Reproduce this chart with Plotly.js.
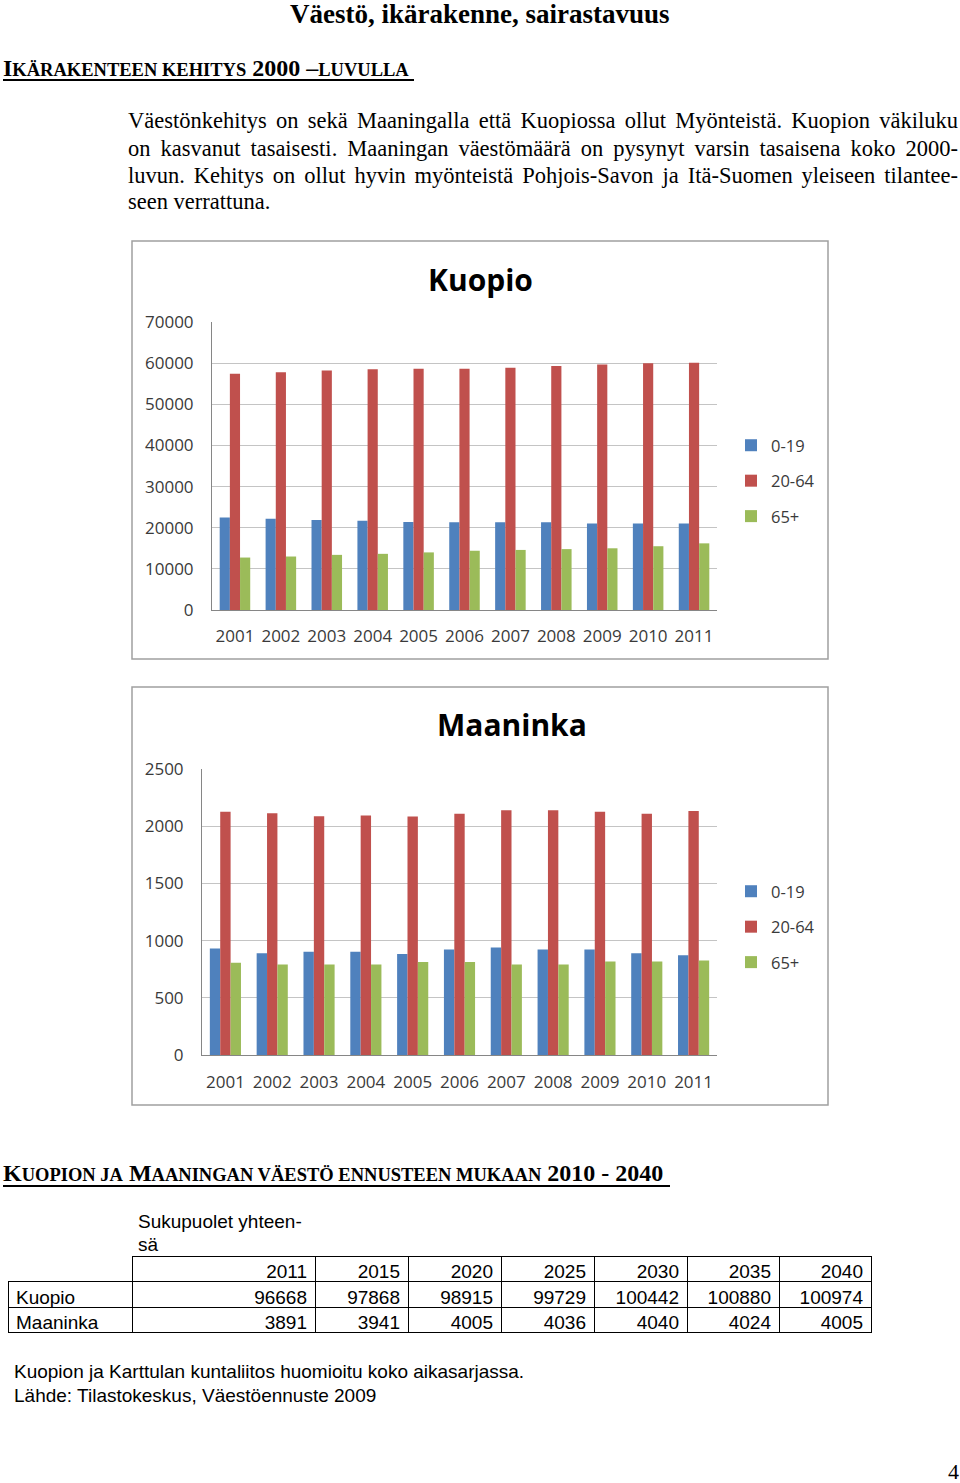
<!DOCTYPE html>
<html><head><meta charset="utf-8">
<script src="https://cdn.plot.ly/plotly-3.0.1.min.js"></script>
<style>html,body{margin:0;padding:0;background:#fff}</style>
</head><body><div id="chart" style="width:960px;height:1483px"></div>
<script>
// ---- Data ----
const years = ['2001','2002','2003','2004','2005','2006','2007','2008','2009','2010','2011'];
const ageGroups = ['0-19','20-64','65+'];
const kuopio0_19  = [22500, 22200, 21900, 21700, 21400, 21300, 21300, 21300, 21000, 21000, 21000];
const kuopio20_64 = [57400, 57800, 58200, 58500, 58650, 58650, 58900, 59300, 59700, 60000, 60100];
const kuopio65    = [12750, 13000, 13400, 13650, 14000, 14400, 14600, 14800, 15000, 15500, 16200];
const maaninka0_19  = [931, 890, 902, 902, 882, 922, 940, 922, 922, 890, 873];
const maaninka20_64 = [2126, 2114, 2088, 2094, 2085, 2108, 2140, 2140, 2126, 2108, 2132];
const maaninka65    = [806, 792, 792, 792, 812, 812, 792, 792, 818, 818, 827];

const forecastYears = ['2011','2015','2020','2025','2030','2035','2040'];
const forecastRows = ['Kuopio','Maaninka'];
const kuopioForecast   = [96668, 97868, 98915, 99729, 100442, 100880, 100974];
const maaninkaForecast = [3891, 3941, 4005, 4036, 4040, 4024, 4005];

// ---- Layout helpers ----
const W = 960, H = 1483;
const px = x => x / W, py = y => 1 - y / H;
const colors = ['#4F81BD', '#C0504D', '#9BBB59'];
const chartFont = 'Open Sans';
const serif = 'Liberation Serif, Times New Roman, serif';
const sans = 'Liberation Sans, Arial, sans-serif';

const traces = [];
[kuopio0_19, kuopio20_64, kuopio65].forEach((vals, i) => {
  traces.push({type: 'bar', x: years, y: vals, name: ageGroups[i], marker: {color: colors[i]},
    xaxis: 'x', yaxis: 'y', legend: 'legend', legendgroup: 'k' + i, hoverinfo: 'skip'});
});
[maaninka0_19, maaninka20_64, maaninka65].forEach((vals, i) => {
  traces.push({type: 'bar', x: years, y: vals, name: ageGroups[i], marker: {color: colors[i]},
    xaxis: 'x2', yaxis: 'y2', legend: 'legend2', legendgroup: 'm' + i, hoverinfo: 'skip'});
});

// Table
const tFont = {family: sans, size: 19, color: '#000'};
const headerVals = [''].concat(forecastYears);
const cellVals = [forecastRows].concat(forecastYears.map((_, j) => [kuopioForecast[j], maaninkaForecast[j]]));
traces.push({
  type: 'table',
  domain: {x: [px(8), px(871)], y: [py(1345), py(1256)]},
  columnwidth: [124, 183, 93, 93, 93, 93, 92],
  header: {values: headerVals, height: 25.5,
    align: ['left'].concat(forecastYears.map(() => 'right')),
    font: tFont,
    line: {color: ['#ffffff'].concat(forecastYears.map(() => '#000')), width: 1},
    fill: {color: '#fff'}},
  cells: {values: cellVals, height: 25.5,
    align: ['left'].concat(forecastYears.map(() => 'right')),
    font: tFont,
    line: {color: '#000', width: 1},
    fill: {color: '#fff'}}
});

const tickFont = {family: chartFont, size: 17, color: '#3a3a3a'};
function xa(d0, d1, anchor, stand) {
  return {domain: [px(d0), px(d1)], anchor: anchor, type: 'category', showline: true, linecolor: '#868686',
    linewidth: 1, ticks: '', tickfont: tickFont, showgrid: false, zeroline: false, fixedrange: true, ticklabelstandoff: stand};
}
function ya(top, bottom, anchor, maxv, step) {
  return {domain: [py(bottom), py(top)], anchor: anchor, range: [0, maxv], dtick: step, tick0: 0,
    showline: true, linecolor: '#868686', linewidth: 1, gridcolor: '#c4c4c4', gridwidth: 1,
    ticks: '', tickfont: tickFont, tickformat: 'd', zeroline: false, fixedrange: true, ticklabelstandoff: 14};
}

const ann = (text, x, y, opts) => Object.assign({text: text, x: px(x), y: py(y), xref: 'paper', yref: 'paper',
  showarrow: false, xanchor: 'left', yanchor: 'middle', align: 'left'}, opts || {});
const sc = t => '<span style="font-size:18.5px">' + t + '</span>';
const bodyFont = {family: serif, size: 22.5, color: '#000'};

const annotations = [
  ann('<b>Väestö, ikärakenne, sairastavuus</b>', 480, 14, {xanchor: 'center', align: 'center', font: {family: serif, size: 27, color: '#000'}}),
  ann('<b>I' + sc('KÄRAKENTEEN KEHITYS') + ' 2000 –' + sc('LUVULLA') + '</b>', 1, 68, {font: {family: serif, size: 24, color: '#000'}}),
  ann('Väestönkehitys on sekä Maaningalla että Kuopiossa ollut Myönteistä. Kuopion väkiluku', 126, 121, {font: bodyFont}),
  ann('on kasvanut tasaisesti. Maaningan väestömäärä on pysynyt varsin tasaisena koko 2000-', 126, 148, {font: bodyFont}),
  ann('luvun. Kehitys on ollut hyvin myönteistä Pohjois-Savon ja Itä-Suomen yleiseen tilantee-', 126, 175, {font: bodyFont}),
  ann('seen verrattuna.', 126, 202, {font: bodyFont}),
  ann('<b>Kuopio</b>', 480, 279, {xanchor: 'center', align: 'center', font: {family: chartFont, size: 30, color: '#000'}}),
  ann('<b>Maaninka</b>', 512, 724, {xanchor: 'center', align: 'center', font: {family: chartFont, size: 30, color: '#000'}}),
  ann('<b>K' + sc('UOPION JA') + ' M' + sc('AANINGAN VÄESTÖ ENNUSTEEN MUKAAN') + ' 2010 - 2040</b>', 1, 1173, {font: {family: serif, size: 24, color: '#000'}}),
  ann('Sukupuolet yhteen-', 136, 1221, {font: tFont}),
  ann('sä', 136, 1244, {font: tFont}),
  ann('Kuopion ja Karttulan kuntaliitos huomioitu koko aikasarjassa.', 12, 1371, {font: tFont}),
  ann('Lähde: Tilastokeskus, Väestöennuste 2009', 12, 1395, {font: tFont}),
  ann('4', 953, 1471, {xanchor: 'center', align: 'center', font: {family: serif, size: 22, color: '#000'}})
];
const justifyIdx = [2, 3, 4];
const justifyRight = 958;

const shapes = [
  {type: 'rect', xref: 'paper', yref: 'paper', x0: px(132), x1: px(828), y0: py(241), y1: py(659), line: {color: '#a0a0a0', width: 1.5}},
  {type: 'rect', xref: 'paper', yref: 'paper', x0: px(132), x1: px(828), y0: py(687), y1: py(1105), line: {color: '#a0a0a0', width: 1.5}},
  {type: 'line', xref: 'paper', yref: 'paper', x0: px(3), x1: px(414), y0: py(80), y1: py(80), line: {color: '#000', width: 2}},
  {type: 'line', xref: 'paper', yref: 'paper', x0: px(3), x1: px(670), y0: py(1186), y1: py(1186), line: {color: '#000', width: 2}},
  {type: 'line', xref: 'paper', yref: 'paper', x0: px(8), x1: px(132), y0: py(1281.5), y1: py(1281.5), line: {color: '#000', width: 1}}
];

const legendBase = {xanchor: 'left', yanchor: 'top', font: {family: chartFont, size: 16.5, color: '#3a3a3a'},
  bgcolor: 'rgba(0,0,0,0)', traceorder: 'grouped', tracegroupgap: 11, itemwidth: 30};

const layout = {
  width: W, height: H, margin: {l: 0, r: 0, t: 0, b: 0, pad: 0},
  paper_bgcolor: '#fff', plot_bgcolor: 'rgba(0,0,0,0)',
  font: {family: chartFont, color: '#000'},
  barmode: 'group', bargap: 0.335, bargroupgap: 0,
  showlegend: true,
  xaxis: xa(212, 717, 'y', 11),
  yaxis: ya(322, 610, 'x', 70000, 10000),
  xaxis2: xa(202, 717, 'y2', 12),
  yaxis2: ya(769, 1055, 'x2', 2500, 500),
  legend: Object.assign({x: px(731), y: py(428)}, legendBase),
  legend2: Object.assign({x: px(731), y: py(874)}, legendBase),
  annotations: annotations,
  shapes: shapes
};

Plotly.newPlot('chart', traces, layout, {staticPlot: true, displayModeBar: false}).then(gd => {
  try {
    justifyIdx.forEach(i => {
      const g = gd.querySelector('.annotation[data-index="' + i + '"]');
      if (!g) return;
      const t = g.querySelector('text.annotation-text');
      if (!t) return;
      const r = t.getBoundingClientRect();
      const nSpaces = (t.textContent.match(/ /g) || []).length;
      const extra = (justifyRight - r.right) / nSpaces;
      if (nSpaces > 0 && extra > 0 && extra < 8) t.style.wordSpacing = extra + 'px';
    });
  } catch (e) {}
});
</script></body></html>
